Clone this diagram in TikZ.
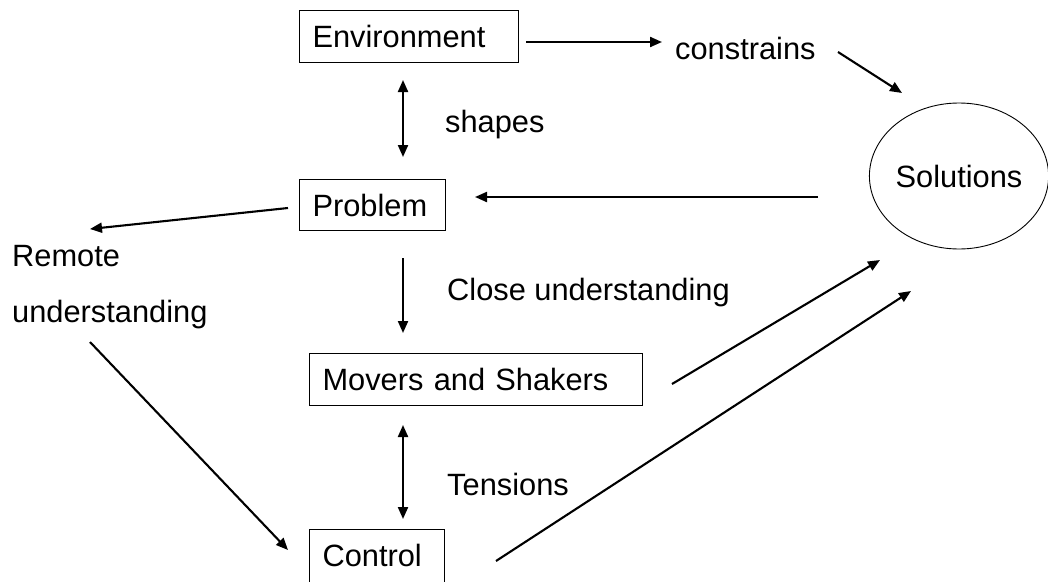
\documentclass[tikz,border=0pt]{standalone}
\usepackage{fontspec}
\setmainfont{Liberation Sans}
\usetikzlibrary{arrows.meta,shapes.geometric}
\begin{document}
\begin{tikzpicture}[x=1pt,y=-1pt,
  every node/.style={font=\fontsize{30.8}{36}\selectfont},
  box/.style={draw,line width=1.1pt,anchor=north west,inner xsep=13pt,inner ysep=0pt,
              text height=37pt,align=left},
  lbl/.style={anchor=base west,inner sep=0pt},
  tip/.tip={Triangle[length=12pt,width=10pt]},
  link/.style={line width=2.1pt,-tip},
  both/.style={line width=2.1pt,tip-tip}]
\clip (0,0) rectangle (1048,581);

% boxes
\node[box,text width=193pt,text depth=15pt] (env) at (299,10) {Environment};
\node[box,text width=120pt,text depth=14pt] (prob) at (299,179) {Problem};
\node[box,text width=307pt,text depth=15pt] (movers) at (309,353) {Movers and Shakers};
\node[box,text width=109pt,text depth=17pt] (ctrl) at (309,529) {Control};
\node[draw,ellipse,line width=0.9pt,minimum width=178pt,minimum height=146pt,inner sep=0pt]
  (sol) at (959,176) {Solutions};

% labels
\node[lbl] (constrains) at (675,59) {constrains};
\node[lbl] (shapes) at (445,132) {shapes};
\node[lbl] (close) at (447,300) {Close understanding};
\node[lbl] (tensions) at (447,495) {Tensions};
\node[lbl] (remote) at (12,266) {Remote};
\node[lbl] (underst) at (12,322) {understanding};

% connector ends
\coordinate (e1) at (526,42);  \coordinate (e2) at (662,42);
\coordinate (c1) at (838,52);  \coordinate (c2) at (902,93);
\coordinate (s1) at (403,80);  \coordinate (s2) at (403,157);
\coordinate (p1) at (818,197); \coordinate (p2) at (475,197);
\coordinate (r1) at (288,208); \coordinate (r2) at (90,229);
\coordinate (d1) at (403,258); \coordinate (d2) at (403,333);
\coordinate (u1) at (90,342);  \coordinate (u2) at (288,550);
\coordinate (t1) at (403,425); \coordinate (t2) at (403,519);
\coordinate (m1) at (672,384); \coordinate (m2) at (880,260);
\coordinate (k1) at (496,561); \coordinate (k2) at (911,291);

% connectors
\draw[link] (e1) -- (e2);
\draw[link] (c1) -- (c2);
\draw[both] (s1) -- (s2);
\draw[link] (p1) -- (p2);
\draw[link] (r1) -- (r2);
\draw[link] (d1) -- (d2);
\draw[link] (u1) -- (u2);
\draw[both] (t1) -- (t2);
\draw[link] (m1) -- (m2);
\draw[link] (k1) -- (k2);
\end{tikzpicture}
\end{document}
